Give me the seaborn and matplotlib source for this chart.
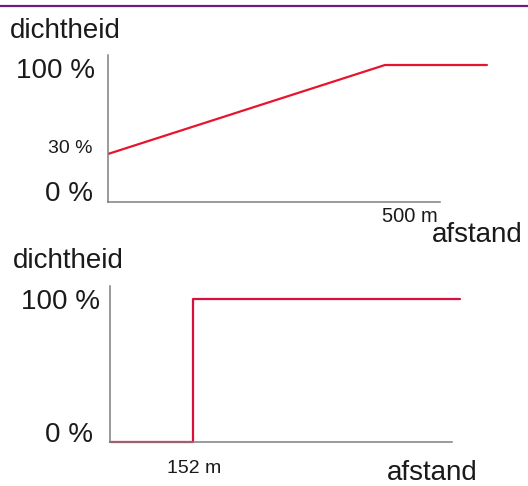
import matplotlib
matplotlib.use("Agg")
import matplotlib.pyplot as plt
from matplotlib.lines import Line2D
import seaborn as sns
import pandas as pd

sns.set_style("white")
plt.rcParams["font.family"] = ["Liberation Sans", "DejaVu Sans"]

# Top panel: density rises linearly from 30 % to 100 % at 500 m, then stays flat
top_distance = [0, 500, 684]
top_density = [30, 100, 100]

# Bottom panel: density jumps from 0 % to 100 % at 152 m
bottom_distance = [0, 152, 152, 637]
bottom_density = [0, 0, 100, 100]

y_label = "dichtheid"
x_label = "afstand"
top_xtick = (500, "500 m")
bottom_xtick = (152, "152 m")

W, H = 528, 486
fig = plt.figure(figsize=(W / 100, H / 100), dpi=100)
fig.patch.set_facecolor("white")


def px_axes(left, top, right, bottom):
    return fig.add_axes([left / W, 1 - bottom / H, (right - left) / W, (bottom - top) / H])


spine_color = "#7f7f7f"
text_color = "#1a1a1a"

# ---- top panel ----
ax1 = px_axes(108, 55, 528, 202)
ax1.set_xlim(0, 420 / 0.554)
ax1.set_ylim(-(202 - 192.1) / 1.271, (192.1 - 55) / 1.271)
df1 = pd.DataFrame({"afstand": top_distance, "dichtheid": top_density})
sns.lineplot(data=df1, x="afstand", y="dichtheid", ax=ax1, color="#e8142e",
             linewidth=1.6, estimator=None, sort=False)

# ---- bottom panel ----
ax2 = px_axes(110, 286, 528, 442)
ax2.set_xlim(0, 418 / 0.549)
ax2.set_ylim(0, (442 - 286) / 1.43)
df2 = pd.DataFrame({"afstand": bottom_distance, "dichtheid": bottom_density})
sns.lineplot(data=df2, x="afstand", y="dichtheid", ax=ax2, color="#d8103e",
             linewidth=1.6, estimator=None, sort=False)
for ln in ax2.lines:
    ln.set_clip_on(False)

for ax, xend in ((ax1, (440 - 108) / 0.554), (ax2, (452 - 110) / 0.549)):
    sns.despine(ax=ax)
    ax.set_xticks([])
    ax.set_yticks([])
    ax.set_xlabel("")
    ax.set_ylabel("")
    ax.set_facecolor("none")
    for s in ("left", "bottom"):
        ax.spines[s].set_color(spine_color)
        ax.spines[s].set_linewidth(1.1)
    ax.spines["bottom"].set_bounds(0, xend)

# y value labels (value, text, size, offset in pixels)
top_ylabels = [(100, "100 %", 20, (-13, -13)), (30, "30 %", 14, (-16, 1)), (0, "0 %", 20, (-15, -9))]
bottom_ylabels = [(100, "100 %", 20, (-10, -10)), (0, "0 %", 20, (-17, 0))]
for ax, labels in ((ax1, top_ylabels), (ax2, bottom_ylabels)):
    for v, t, fs, off in labels:
        ax.annotate(t, xy=(0, v), xycoords="data", xytext=off, textcoords="offset pixels",
                    ha="right", va="baseline", fontsize=fs, color=text_color,
                    annotation_clip=False)

# x value labels
ax1.annotate(top_xtick[1], xy=(top_xtick[0], ax1.get_ylim()[0]), xytext=(-3, -20),
             textcoords="offset pixels", ha="left", va="baseline", fontsize=14.5,
             color=text_color, annotation_clip=False)
ax2.annotate(bottom_xtick[1], xy=(bottom_xtick[0], 0), xytext=(1, -31),
             textcoords="offset pixels", ha="center", va="baseline", fontsize=14,
             color=text_color, annotation_clip=False)

# axis titles
fig.text(10 / W, 1 - 38 / H, y_label, fontsize=20, color=text_color, va="baseline", ha="left")
fig.text(13 / W, 1 - 268 / H, y_label, fontsize=20, color=text_color, va="baseline", ha="left")
fig.text(432 / W, 1 - 242 / H, x_label, fontsize=20, color=text_color, va="baseline", ha="left")
fig.text(387 / W, 1 - 480 / H, x_label, fontsize=20, color=text_color, va="baseline", ha="left")

# purple rule along the top edge
fig.add_artist(Line2D([0, 1], [1 - 6 / H, 1 - 6 / H], color="#6c1d7d", linewidth=1.6,
                      transform=fig.transFigure))

fig.savefig("out.png", dpi=100, facecolor="white")
